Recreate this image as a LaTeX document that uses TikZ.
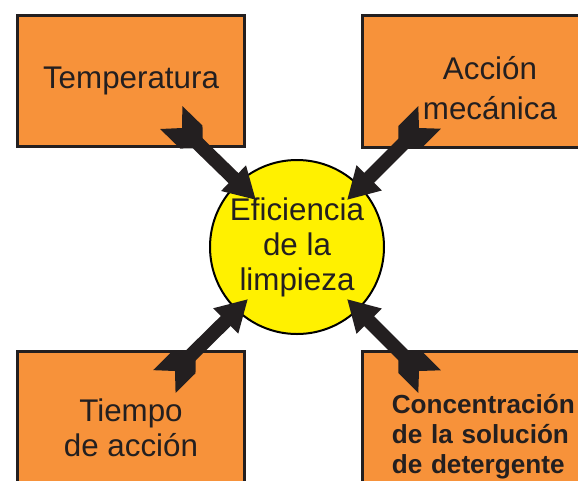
\documentclass[tikz,border=0pt]{standalone}
\usepackage{fontspec}
\setmainfont{Liberation Sans}
\usetikzlibrary{arrows.meta,decorations.markings}

\definecolor{naranja}{RGB}{247,146,58}
\definecolor{amarillo}{RGB}{255,241,0}
\definecolor{oscuro}{RGB}{35,31,32}

\tikzset{
  caja/.style={draw=oscuro, line width=2.2pt, fill=naranja, inner sep=0pt, text=oscuro,
    font=\fontsize{23.5}{26.25}\selectfont},
  pluma/.style={decoration={markings, mark=at position 0 with
    {\fill[oscuro] (-15,16) -- (13,16) -- (22,7) -- (22,-7) -- (13,-16) -- (-15,-16) -- (0,0) -- cycle;}}},
  flecha/.style={draw=oscuro, line width=10.5pt, -{Triangle[length=23.5pt,width=25pt]},
    pluma, postaction={decorate}}
}

\begin{document}
\begin{tikzpicture}[x=0.75pt,y=-0.75pt]
\useasboundingbox (0,0) rectangle (578,480);
\clip (0,0) rectangle (578,480);

 % boxes
\node[caja, minimum width=170pt, minimum height=98pt] (temp) at (131,81) {Temperatura};
\node[caja, minimum width=191pt, minimum height=99pt, align=center,
  font=\fontsize{23.5}{30}\selectfont] (accion) at (490,81.5) {\rule{0pt}{27pt}Acción\\mecánica};
\node[caja, minimum width=170pt, minimum height=115pt, align=center] (tiempo) at (131,428) {Tiempo\\de acción};
\node[caja, anchor=north west, minimum height=128.5pt, text width=136pt, inner xsep=22pt, align=left,
  font=\bfseries\fontsize{19.6}{22.5}\selectfont] (conc) at (361,350) {Concentración\\de la solución\\de detergente};

 % circle
\node[circle, draw=black, line width=1.5pt, fill=amarillo, minimum size=130.5pt, inner sep=0pt,
  align=center, text=oscuro, font=\fontsize{23.5}{26.25}\selectfont] (efi) at (297,247) {Eficiencia\\de la\\limpieza};

 % arrows
\coordinate (c1) at (182,128);
\coordinate (p1) at (256,200);
\coordinate (c2) at (419,128);
\coordinate (p2) at (347,200);
\coordinate (c3) at (175,371);
\coordinate (p3) at (248,299);
\coordinate (c4) at (419,371);
\coordinate (p4) at (347,299);

\draw[flecha] (c1) -- (p1);
\draw[flecha] (c2) -- (p2);
\draw[flecha] (c3) -- (p3);
\draw[flecha] (c4) -- (p4);
\end{tikzpicture}
\end{document}
